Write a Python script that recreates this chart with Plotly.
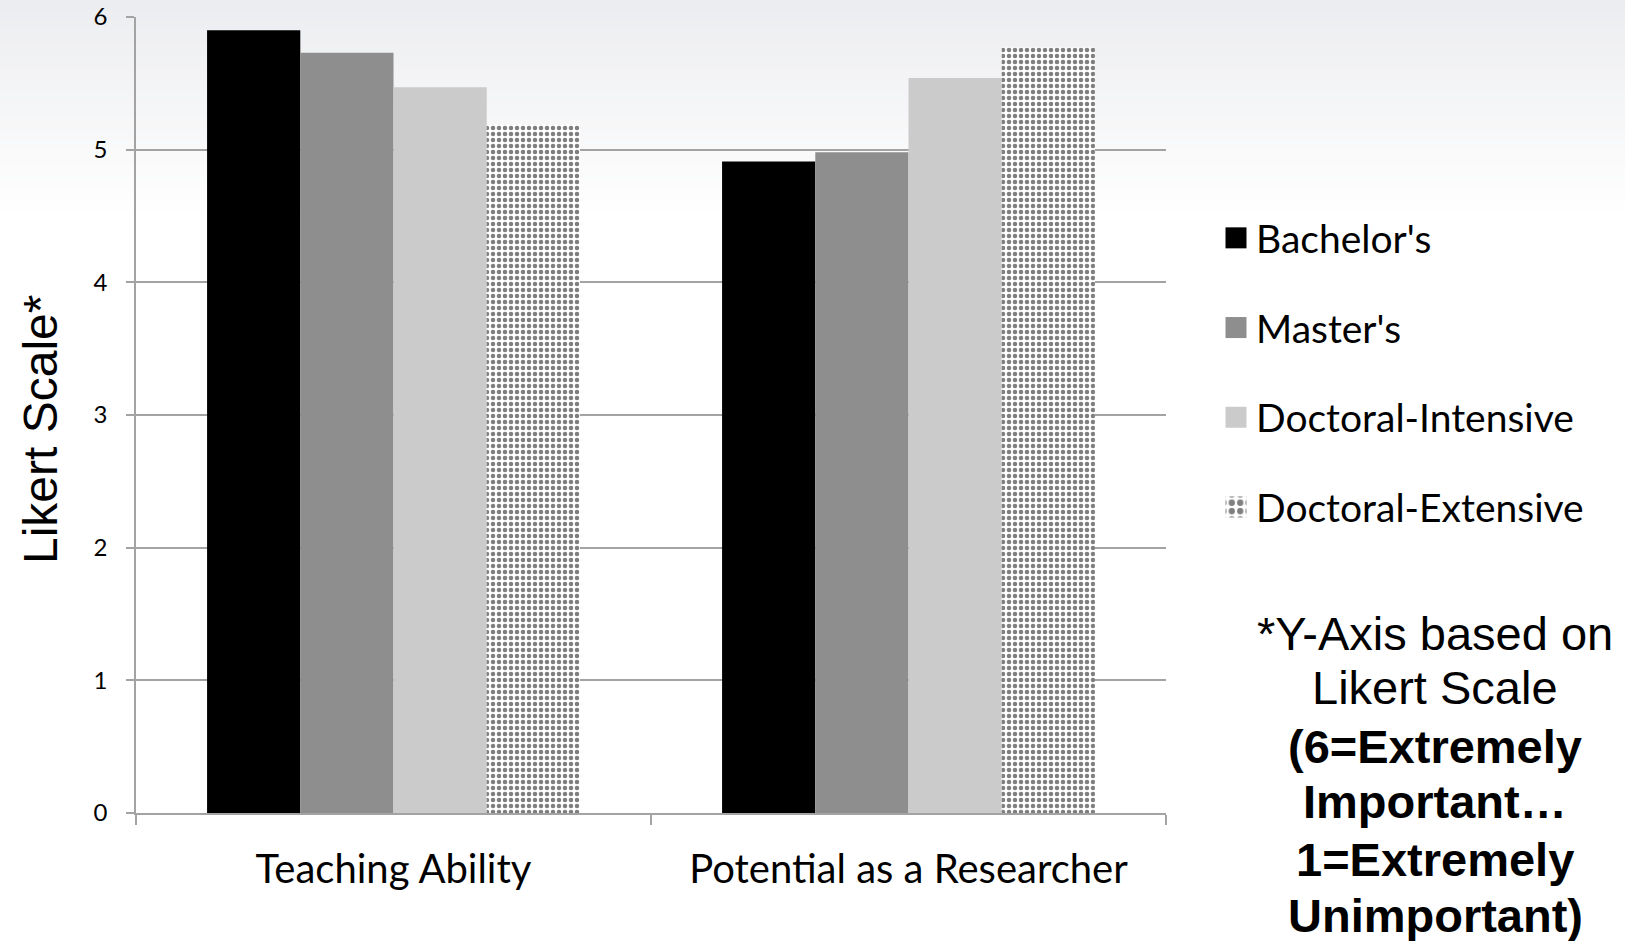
import plotly.graph_objects as go

# Survey results: mean importance rating by institution type
categories = ["Teaching Ability", "Potential as a Researcher"]
series_names = ["Bachelor's", "Master's", "Doctoral-Intensive", "Doctoral-Extensive"]
bachelors = [5.90, 4.91]
masters = [5.73, 4.98]
doctoral_intensive = [5.47, 5.54]
doctoral_extensive = [5.19, 5.77]
y_ticks = [0, 1, 2, 3, 4, 5, 6]

W, H = 1625, 941
M_L, M_R, M_T, M_B = 136, 459, 17, 128
PW = W - M_L - M_R
PH = H - M_T - M_B


def px_x(x):
    return (x - M_L) / PW


def px_y(y):
    return (H - M_B - y) / PH


BODY = "Lato, 'Open Sans', sans-serif"
ARIAL = "Arial, 'Liberation Sans', sans-serif"
GRID = "#a3a3a3"

fig = go.Figure()
styles = [
    dict(color="#000000"),
    dict(color="#8e8e8e"),
    dict(color="#cbcbcb"),
    dict(color="#ffffff", pattern=dict(shape=".", fgcolor="#000000", bgcolor="#ffffff",
                                       size=6, solidity=0.45, fillmode="overlay")),
]
for name, vals, st in zip(series_names,
                          [bachelors, masters, doctoral_intensive, doctoral_extensive],
                          styles):
    fig.add_trace(go.Bar(x=categories, y=vals, name=name, legendgroup=name,
                         marker=dict(line=dict(width=0), **st)))

# soft grey-to-white wash across the top of the page
shapes = []
n_strips = 44
top_rgb = (236, 237, 240)
for i in range(n_strips):
    t = i / (n_strips - 1)
    c = [round(a + (255 - a) * t) for a in top_rgb]
    y0 = i * 5
    shapes.append(dict(type="rect", xref="paper", yref="paper", layer="below",
                       x0=px_x(0), x1=px_x(W), y0=px_y(y0 + 5), y1=px_y(y0),
                       fillcolor=f"rgb({c[0]},{c[1]},{c[2]})", line=dict(width=0)))

annotations = [
    dict(text="Likert Scale*", textangle=-90, xref="paper", yref="paper",
         x=px_x(40), y=px_y(430), xanchor="center", yanchor="middle", showarrow=False,
         font=dict(family=ARIAL, size=48, color="#000000")),
]
note_lines = [
    ("*Y-Axis based on", False, 633),
    ("Likert Scale", False, 687),
    ("(6=Extremely", True, 746),
    ("Important…", True, 801),
    ("1=Extremely", True, 859),
    ("Unimportant)", True, 916),
]
for txt, bold, ypix in note_lines:
    annotations.append(dict(
        text=f"<b>{txt}</b>" if bold else txt, xref="paper", yref="paper",
        x=px_x(1435), y=px_y(ypix), xanchor="center", yanchor="middle",
        showarrow=False, font=dict(family=ARIAL, size=47, color="#000000")))

fig.update_layout(
    width=W, height=H,
    margin=dict(l=M_L, r=M_R, t=M_T, b=M_B, autoexpand=False),
    paper_bgcolor="#ffffff", plot_bgcolor="rgba(0,0,0,0)",
    barmode="group", bargap=0.276, bargroupgap=0,
    showlegend=True,
    legend=dict(x=px_x(1216), y=px_y(206), xanchor="left", yanchor="top",
                font=dict(family=BODY, size=39, color="#000000"),
                tracegroupgap=36, bgcolor="rgba(0,0,0,0)"),
    shapes=shapes,
    annotations=annotations,
    xaxis=dict(showline=True, linecolor=GRID, linewidth=1.5,
               ticks="outside", tickson="boundaries", ticklen=10, tickcolor=GRID,
               tickwidth=1.5, ticklabelstandoff=20,
               tickfont=dict(family=BODY, size=40, color="#000000"),
               showgrid=False),
    yaxis=dict(range=[0, 6], tickvals=y_ticks, showline=True, linecolor=GRID, linewidth=1.5,
               showgrid=True, gridcolor=GRID, gridwidth=1.5, zeroline=False,
               ticks="outside", ticklen=8, tickcolor=GRID, tickwidth=1.5,
               ticklabelstandoff=14,
               tickfont=dict(family=BODY, size=24, color="#000000")),
)

# enlarge the legend swatches to roughly 21px squares, keeping their placement
post_js = """
var gd = document.getElementById('{plot_id}');
function growSwatches() {
  gd.querySelectorAll('.legendpoints path').forEach(function (p) {
    if (p.getAttribute('data-grown')) { return; }
    var t = p.getAttribute('transform') || '';
    p.setAttribute('transform', (t + ' scale(1.75)').trim());
    p.setAttribute('data-grown', '1');
  });
}
growSwatches();
gd.on('plotly_afterplot', growSwatches);
"""
fig.write_html("out.html", post_script=post_js)
